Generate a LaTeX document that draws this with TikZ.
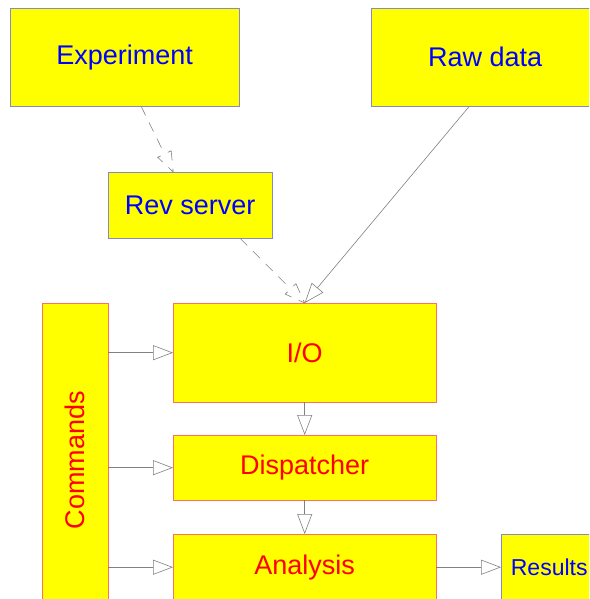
\documentclass[tikz,border=0pt]{standalone}
\usepackage{fontspec}
\setmainfont{Liberation Sans}
\usetikzlibrary{arrows.meta,calc,positioning}
\definecolor{yel}{RGB}{255,255,0}
\definecolor{bluetxt}{RGB}{0,0,255}
\definecolor{redtxt}{RGB}{255,0,0}
\definecolor{bluebord}{HTML}{8888C8}
\definecolor{redbord}{HTML}{FF7058}
\definecolor{lin}{HTML}{808080}
\tikzset{
  box/.style={draw, fill=yel, anchor=north west, inner sep=0pt, font=\fontsize{27}{30}\selectfont},
  bluebox/.style={box, draw=bluebord, text=bluetxt},
  redbox/.style={box, draw=redbord, text=redtxt},
  conn/.style={draw=lin, line width=0.6pt, -{Triangle[open,length=20pt,width=15pt]}},
  dconn/.style={draw=lin, line width=0.6pt, dash pattern=on 10pt off 8pt},
}
\begin{document}
\begin{tikzpicture}[x=1pt,y=-1pt]
\useasboundingbox (0,0) rectangle (589,599);
\clip (0,0) rectangle (589,599);
\node[bluebox, minimum width=229pt, minimum height=98pt] (exp) at (10,8) {Experiment};
\node[bluebox, minimum width=228pt, minimum height=98pt] (raw) at (371,8) {Raw data};
\node[bluebox, minimum width=164pt, minimum height=66pt] (rev) at (108,172) {Rev server};
\node[redbox, minimum width=66pt, minimum height=314pt] (cmd) at (42,303) {};
\node[text=redtxt, rotate=90, font=\fontsize{27}{30}\selectfont] (cmdt) at (cmd.center) {Commands};
\node[redbox, minimum width=263pt, minimum height=99pt] (io) at (173,303) {I/O};
\node[redbox, minimum width=263pt, minimum height=65pt] (disp) at (173,435) {Dispatcher};
\node[redbox, minimum width=263pt, minimum height=66pt] (ana) at (173,534) {Analysis};
\node[bluebox, minimum width=96pt, minimum height=66pt, font=\fontsize{23}{26}\selectfont] (res) at (501,534) {Results};

% dashed arrows with dashed open triangles
\coordinate (a1) at ([xshift=16.5pt]exp.south);
\coordinate (b1) at ([xshift=-17pt]rev.north);
\coordinate (c1) at ($(b1)!20pt!(a1)$);
\draw[dconn] (a1) -- (c1);
\draw[dconn] ($(c1)!7.5pt!90:(b1)$) -- (b1) -- ($(c1)!7.5pt!-90:(b1)$) -- cycle;

\coordinate (a2) at ([xshift=50pt]rev.south);
\coordinate (b2) at (io.north);
\coordinate (c2) at ($(b2)!20pt!(a2)$);
\draw[dconn] (a2) -- (c2);
\draw[dconn] ($(c2)!7.5pt!90:(b2)$) -- (b2) -- ($(c2)!7.5pt!-90:(b2)$) -- cycle;

\coordinate (a3) at ([xshift=-16pt]raw.south);
\draw[conn] (a3) -- (io.north);

\draw[conn] (cmd.east |- io.west) -- (io.west);
\draw[conn] (cmd.east |- disp.west) -- (disp.west);
\draw[conn] (cmd.east |- ana.west) -- (ana.west);
\draw[conn] (io.south) -- (disp.north);
\draw[conn] (disp.south) -- (ana.north);
\draw[conn] (ana.east) -- (res.west);
\end{tikzpicture}
\end{document}
